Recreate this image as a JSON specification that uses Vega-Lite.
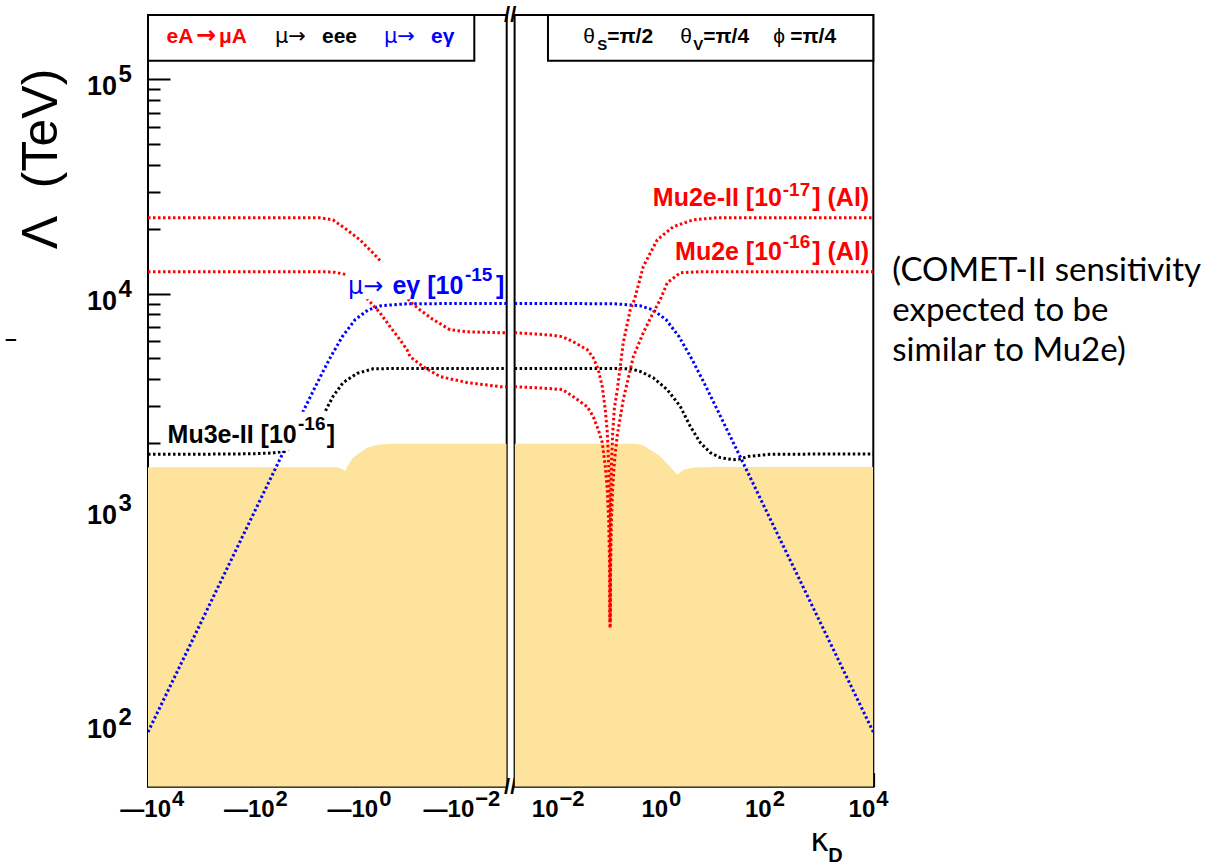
{
  "$schema": "https://vega.github.io/schema/vega-lite/v6.json",
  "autosize": {"type": "none"},
  "padding": {"left": 148, "top": 15, "right": 1065, "bottom": 852},
  "background": "white",
  "bounds": "flush",
  "spacing": 7.6,
  "config": {
    "view": {"stroke": "black", "strokeWidth": 2},
    "axis": {"grid": false, "domain": false, "tickColor": "black", "tickWidth": 2, "labels": false, "titleColor": "black"}
  },
  "datasets": {
    "curves": [
      {"side":"neg","series":"meg","k":0.00119,"v":9000},{"side":"neg","series":"meg","k":0.01,"v":9000},{"side":"neg","series":"meg","k":0.1,"v":8978},{"side":"neg","series":"meg","k":0.3162,"v":8788},{"side":"neg","series":"meg","k":0.5623,"v":8403},{"side":"neg","series":"meg","k":1,"v":7568},{"side":"neg","series":"meg","k":1.778,"v":6301},{"side":"neg","series":"meg","k":3.162,"v":4942},{"side":"neg","series":"meg","k":5.623,"v":3766},{"side":"neg","series":"meg","k":10,"v":2839},{"side":"neg","series":"meg","k":31.62,"v":1600},{"side":"neg","series":"meg","k":100,"v":900},{"side":"neg","series":"meg","k":1000,"v":284.6},{"side":"neg","series":"meg","k":10000,"v":90},
      {"side":"pos","series":"meg","k":0.00119,"v":9000},{"side":"pos","series":"meg","k":0.01,"v":9000},{"side":"pos","series":"meg","k":0.1,"v":8978},{"side":"pos","series":"meg","k":0.3162,"v":8788},{"side":"pos","series":"meg","k":0.5623,"v":8403},{"side":"pos","series":"meg","k":1,"v":7568},{"side":"pos","series":"meg","k":1.778,"v":6301},{"side":"pos","series":"meg","k":3.162,"v":4942},{"side":"pos","series":"meg","k":5.623,"v":3766},{"side":"pos","series":"meg","k":10,"v":2839},{"side":"pos","series":"meg","k":31.62,"v":1600},{"side":"pos","series":"meg","k":100,"v":900},{"side":"pos","series":"meg","k":1000,"v":284.6},{"side":"pos","series":"meg","k":10000,"v":90},
      {"side":"neg","series":"meee","k":0.00119,"v":4480},{"side":"neg","series":"meee","k":0.1,"v":4480},{"side":"neg","series":"meee","k":0.2,"v":4476},{"side":"neg","series":"meee","k":0.4529,"v":4460},{"side":"neg","series":"meee","k":0.9226,"v":4248},{"side":"neg","series":"meee","k":1.722,"v":3842},{"side":"neg","series":"meee","k":2.685,"v":3316},{"side":"neg","series":"meee","k":3.828,"v":2812},{"side":"neg","series":"meee","k":6.31,"v":2400},{"side":"neg","series":"meee","k":10,"v":2120},{"side":"neg","series":"meee","k":15.85,"v":1930},{"side":"neg","series":"meee","k":22.6,"v":1840},{"side":"neg","series":"meee","k":39.8,"v":1805},{"side":"neg","series":"meee","k":100,"v":1790},{"side":"neg","series":"meee","k":1000,"v":1782},{"side":"neg","series":"meee","k":10000,"v":1780},
      {"side":"pos","series":"meee","k":0.00119,"v":4480},{"side":"pos","series":"meee","k":0.1,"v":4478},{"side":"pos","series":"meee","k":0.2037,"v":4467},{"side":"pos","series":"meee","k":0.3177,"v":4337},{"side":"pos","series":"meee","k":0.5662,"v":4053},{"side":"pos","series":"meee","k":1.054,"v":3565},{"side":"pos","series":"meee","k":1.879,"v":2978},{"side":"pos","series":"meee","k":2.931,"v":2403},{"side":"pos","series":"meee","k":4.571,"v":2018},{"side":"pos","series":"meee","k":7.129,"v":1812},{"side":"pos","series":"meee","k":11.12,"v":1717},{"side":"pos","series":"meee","k":19.82,"v":1680},{"side":"pos","series":"meee","k":25.9,"v":1690},{"side":"pos","series":"meee","k":39.8,"v":1742},{"side":"pos","series":"meee","k":100,"v":1780},{"side":"pos","series":"meee","k":1000,"v":1785},{"side":"pos","series":"meee","k":10000,"v":1786},
      {"side":"neg","series":"mu2e2","k":0.00119,"v":6577},{"side":"neg","series":"mu2e2","k":0.001585,"v":6577},{"side":"neg","series":"mu2e2","k":0.00692,"v":6640},{"side":"neg","series":"mu2e2","k":0.01479,"v":6790},{"side":"neg","series":"mu2e2","k":0.0316,"v":7590},{"side":"neg","series":"mu2e2","k":0.0562,"v":8410},{"side":"neg","series":"mu2e2","k":0.0875,"v":9180},{"side":"neg","series":"mu2e2","k":0.158,"v":11300},{"side":"neg","series":"mu2e2","k":0.302,"v":13950},{"side":"neg","series":"mu2e2","k":0.457,"v":15530},{"side":"neg","series":"mu2e2","k":0.813,"v":17850},{"side":"neg","series":"mu2e2","k":1.445,"v":19880},{"side":"neg","series":"mu2e2","k":2.69,"v":22130},{"side":"neg","series":"mu2e2","k":4.79,"v":22600},{"side":"neg","series":"mu2e2","k":10,"v":22630},{"side":"neg","series":"mu2e2","k":10000,"v":22630},
      {"side":"neg","series":"mu2e","k":0.00119,"v":3683},{"side":"neg","series":"mu2e","k":0.001585,"v":3683},{"side":"neg","series":"mu2e","k":0.00692,"v":3848},{"side":"neg","series":"mu2e","k":0.0229,"v":4104},{"side":"neg","series":"mu2e","k":0.049,"v":4567},{"side":"neg","series":"mu2e","k":0.0871,"v":5085},{"side":"neg","series":"mu2e","k":0.1,"v":5480},{"side":"neg","series":"mu2e","k":0.1365,"v":6097},{"side":"neg","series":"mu2e","k":0.2128,"v":7016},{"side":"neg","series":"mu2e","k":0.332,"v":8150},{"side":"neg","series":"mu2e","k":0.566,"v":9380},{"side":"neg","series":"mu2e","k":0.9,"v":10900},{"side":"neg","series":"mu2e","k":1.445,"v":12270},{"side":"neg","series":"mu2e","k":2.5,"v":12600},{"side":"neg","series":"mu2e","k":4.79,"v":12680},{"side":"neg","series":"mu2e","k":10,"v":12680},{"side":"neg","series":"mu2e","k":10000,"v":12680},
      {"side":"pos","series":"mu2e2","k":0.00119,"v":6577},{"side":"pos","series":"mu2e2","k":0.00316,"v":6480},{"side":"pos","series":"mu2e2","k":0.00631,"v":6400},{"side":"pos","series":"mu2e2","k":0.01,"v":6300},{"side":"pos","series":"mu2e2","k":0.01614,"v":5970},{"side":"pos","series":"mu2e2","k":0.03006,"v":5480},{"side":"pos","series":"mu2e2","k":0.03926,"v":5030},{"side":"pos","series":"mu2e2","k":0.04909,"v":4420},{"side":"pos","series":"mu2e2","k":0.05861,"v":3680},{"side":"pos","series":"mu2e2","k":0.067,"v":2876},{"side":"pos","series":"mu2e2","k":0.0733,"v":2248},{"side":"pos","series":"mu2e2","k":0.078,"v":1572},{"side":"pos","series":"mu2e2","k":0.081,"v":994},{"side":"pos","series":"mu2e2","k":0.0825,"v":497},{"side":"pos","series":"mu2e2","k":0.0828,"v":300},{"side":"pos","series":"mu2e2","k":0.0832,"v":300},{"side":"pos","series":"mu2e2","k":0.0835,"v":497},{"side":"pos","series":"mu2e2","k":0.085,"v":994},{"side":"pos","series":"mu2e2","k":0.088,"v":1572},{"side":"pos","series":"mu2e2","k":0.093,"v":2223},{"side":"pos","series":"mu2e2","k":0.1,"v":2898},{"side":"pos","series":"mu2e2","k":0.1143,"v":3565},{"side":"pos","series":"mu2e2","k":0.149,"v":5906},{"side":"pos","series":"mu2e2","k":0.2037,"v":8435},{"side":"pos","series":"mu2e2","k":0.2455,"v":9395},{"side":"pos","series":"mu2e2","k":0.363,"v":13400},{"side":"pos","series":"mu2e2","k":0.676,"v":17880},{"side":"pos","series":"mu2e2","k":1.377,"v":20550},{"side":"pos","series":"mu2e2","k":3.35,"v":22140},{"side":"pos","series":"mu2e2","k":9.73,"v":22630},{"side":"pos","series":"mu2e2","k":10000,"v":22640},
      {"side":"pos","series":"mu2e","k":0.00119,"v":3683},{"side":"pos","series":"mu2e","k":0.00316,"v":3640},{"side":"pos","series":"mu2e","k":0.00631,"v":3600},{"side":"pos","series":"mu2e","k":0.01,"v":3570},{"side":"pos","series":"mu2e","k":0.01614,"v":3306},{"side":"pos","series":"mu2e","k":0.03006,"v":2969},{"side":"pos","series":"mu2e","k":0.03926,"v":2669},{"side":"pos","series":"mu2e","k":0.04909,"v":2321},{"side":"pos","series":"mu2e","k":0.05861,"v":2018},{"side":"pos","series":"mu2e","k":0.067,"v":1562},{"side":"pos","series":"mu2e","k":0.073,"v":1235},{"side":"pos","series":"mu2e","k":0.078,"v":873},{"side":"pos","series":"mu2e","k":0.081,"v":552},{"side":"pos","series":"mu2e","k":0.0826,"v":275},{"side":"pos","series":"mu2e","k":0.0834,"v":275},{"side":"pos","series":"mu2e","k":0.085,"v":552},{"side":"pos","series":"mu2e","k":0.088,"v":873},{"side":"pos","series":"mu2e","k":0.093,"v":1235},{"side":"pos","series":"mu2e","k":0.099,"v":1562},{"side":"pos","series":"mu2e","k":0.1045,"v":1811},{"side":"pos","series":"mu2e","k":0.115,"v":2209},{"side":"pos","series":"mu2e","k":0.149,"v":3200},{"side":"pos","series":"mu2e","k":0.2328,"v":5082},{"side":"pos","series":"mu2e","k":0.363,"v":6577},{"side":"pos","series":"mu2e","k":0.566,"v":8168},{"side":"pos","series":"mu2e","k":0.773,"v":9395},{"side":"pos","series":"mu2e","k":1.054,"v":11240},{"side":"pos","series":"mu2e","k":1.879,"v":12530},{"side":"pos","series":"mu2e","k":4.571,"v":12680},{"side":"pos","series":"mu2e","k":10000,"v":12680}
    ],
    "shade": [
      {"side":"neg","k":0.00119,"v":1995},{"side":"neg","k":0.2,"v":1995},{"side":"neg","k":0.291,"v":1985},{"side":"neg","k":0.42,"v":1955},{"side":"neg","k":0.593,"v":1912},{"side":"neg","k":1.104,"v":1717},{"side":"neg","k":1.35,"v":1590},{"side":"neg","k":1.574,"v":1482},{"side":"neg","k":1.75,"v":1520},{"side":"neg","k":2.29,"v":1550},{"side":"neg","k":10000,"v":1550},
      {"side":"pos","k":0.00119,"v":1995},{"side":"pos","k":0.2767,"v":1995},{"side":"pos","k":0.38,"v":1950},{"side":"pos","k":0.4932,"v":1872},{"side":"pos","k":0.7727,"v":1741},{"side":"pos","k":1.102,"v":1591},{"side":"pos","k":1.644,"v":1430},{"side":"pos","k":2.148,"v":1509},{"side":"pos","k":3.35,"v":1543},{"side":"pos","k":8.147,"v":1553},{"side":"pos","k":10000,"v":1553}
    ]
  },
  "hconcat": [
    {
      "width": 358.7,
      "height": 771.7,
      "resolve": {"axis": {"y": "independent"}},
      "layer": [
        {
          "data": {"name": "shade"},
          "transform": [{"filter": "datum.side == 'neg'"}],
          "mark": {"type": "area", "color": "#FDE39B", "clip": true},
          "encoding": {
            "x": {"field": "k", "type": "quantitative", "scale": {"type": "log", "domain": [0.00119, 10000], "reverse": true, "nice": false},
                  "axis": {"values": [10000, 1000, 100, 10, 1, 0.1, 0.01], "tickSize": -14, "labels": false, "title": null}},
            "y": {"field": "v", "type": "quantitative", "scale": {"type": "log", "domain": [50, 200000], "nice": false},
                  "axis": {"orient": "left", "values": [100, 1000, 10000, 100000], "tickSize": -22, "labels": false, "title": "Λ\u00a0\u00a0(TeV)", "titleFont": "Liberation Sans", "titleFontSize": 50, "titleFontWeight": "normal", "titleX": -106.5, "titleY": 143.5, "titleAngle": -90, "titleAlign": "center", "titleBaseline": "middle"}},
            "y2": {"datum": 50}
          }
        },
        {
          "data": {"name": "shade"},
          "transform": [{"filter": "datum.side == 'neg'"}],
          "mark": {"type": "point", "opacity": 0},
          "encoding": {
            "x": {"field": "k", "type": "quantitative"},
            "y": {"field": "v", "type": "quantitative", "axis": {"orient": "left", "values": [60, 70, 80, 90, 200, 300, 400, 500, 600, 700, 800, 900, 2000, 3000, 4000, 5000, 6000, 7000, 8000, 9000, 20000, 30000, 40000, 50000, 60000, 70000, 80000, 90000], "tickSize": -12, "labels": false, "title": null}}
          }
        },
        {
          "data": {"name": "curves"},
          "transform": [{"filter": "datum.side == 'neg'"}],
          "mark": {"type": "line", "strokeWidth": 3, "strokeDash": [2.5, 2.5], "clip": true},
          "encoding": {
            "x": {"field": "k", "type": "quantitative"},
            "y": {"field": "v", "type": "quantitative", "axis": null},
            "color": {"field": "series", "type": "nominal", "scale": {"domain": ["meg", "meee", "mu2e2", "mu2e"], "range": ["#0000FF", "#000000", "#FF0000", "#FF0000"]}, "legend": null}
          }
        },
        {
          "data": {"values": [{"k": 4696, "k2": 2.457, "v": 2815, "v2": 1852}, {"k": 1.507, "k2": 0.001404, "v": 14115, "v2": 9432}]},
          "mark": {"type": "rect", "fill": "white", "strokeWidth": 0},
          "encoding": {
            "x": {"field": "k", "type": "quantitative"}, "x2": {"field": "k2"},
            "y": {"field": "v", "type": "quantitative", "axis": null}, "y2": {"field": "v2"}
          }
        },
        {
          "data": {"values": [{"k": 10000, "k2": 0.005023, "v": 200000, "v2": 122400}]},
          "mark": {"type": "rect", "fill": "white", "stroke": "black", "strokeWidth": 2},
          "encoding": {
            "x": {"field": "k", "type": "quantitative"}, "x2": {"field": "k2"},
            "y": {"field": "v", "type": "quantitative", "axis": null}, "y2": {"field": "v2"}
          }
        },
        {
          "data": {"values": [{"t": "10", "k": 39670, "v": 84.2}, {"t": "10", "k": 39670, "v": 842}, {"t": "10", "k": 39670, "v": 8420}, {"t": "10", "k": 39670, "v": 84200}]},
          "mark": {"type": "text", "font": "Liberation Sans", "fontSize": 27, "fontWeight": "bold", "color": "#000000", "align": "right", "baseline": "alphabetic"},
          "encoding": {"x": {"field": "k", "type": "quantitative"}, "y": {"field": "v", "type": "quantitative", "axis": null}, "text": {"field": "t"}}
        },
        {
          "data": {"values": [{"t": "2", "k": 37110, "v": 96.83}, {"t": "3", "k": 37110, "v": 968.3}, {"t": "4", "k": 37110, "v": 9683}, {"t": "5", "k": 37110, "v": 96830}]},
          "mark": {"type": "text", "font": "Liberation Sans", "fontSize": 24, "fontWeight": "bold", "color": "#000000", "align": "left", "baseline": "alphabetic"},
          "encoding": {"x": {"field": "k", "type": "quantitative"}, "y": {"field": "v", "type": "quantitative", "axis": null}, "text": {"field": "t"}}
        },
        {
          "data": {"values": [{"t": "—10", "k": 3597, "v": 36.0}, {"t": "—10", "k": 35.99, "v": 36.0}, {"t": "—10", "k": 0.3601, "v": 36.0}, {"t": "—10", "k": 0.005028, "v": 36.0}]},
          "mark": {"type": "text", "font": "Liberation Sans", "fontSize": 24, "fontWeight": "bold", "color": "#000000", "align": "right", "baseline": "alphabetic"},
          "encoding": {"x": {"field": "k", "type": "quantitative"}, "y": {"field": "v", "type": "quantitative", "axis": null}, "text": {"field": "t"}}
        },
        {
          "data": {"values": [{"t": "4", "k": 3440, "v": 40.64}, {"t": "2", "k": 34.42, "v": 40.64}, {"t": "0", "k": 0.3444, "v": 40.64}, {"t": "−2", "k": 0.004809, "v": 40.64}]},
          "mark": {"type": "text", "font": "Liberation Sans", "fontSize": 22, "fontWeight": "bold", "color": "#000000", "align": "left", "baseline": "alphabetic"},
          "encoding": {"x": {"field": "k", "type": "quantitative"}, "y": {"field": "v", "type": "quantitative", "axis": null}, "text": {"field": "t"}}
        },
        {
          "data": {"values": [{"t": "eA", "k": 4395, "v": 148600}, {"t": "μA", "k": 426.1, "v": 148600}]},
          "mark": {"type": "text", "font": "Liberation Sans", "fontSize": 21, "fontWeight": "bold", "color": "#FF0000", "align": "left", "baseline": "alphabetic"},
          "encoding": {"x": {"field": "k", "type": "quantitative"}, "y": {"field": "v", "type": "quantitative", "axis": null}, "text": {"field": "t"}}
        },
        {
          "data": {"values": [{"t": "→", "k": 1184, "v": 148600}]},
          "mark": {"type": "text", "font": "DejaVu Sans", "fontSize": 24, "fontWeight": "bold", "color": "#FF0000", "align": "left", "baseline": "alphabetic"},
          "encoding": {"x": {"field": "k", "type": "quantitative"}, "y": {"field": "v", "type": "quantitative", "axis": null}, "text": {"field": "t"}}
        },
        {
          "data": {"values": [{"t": "μ→", "k": 35.37, "v": 148600}]},
          "mark": {"type": "text", "font": "DejaVu Sans", "fontSize": 21, "fontWeight": "normal", "color": "#000000", "align": "left", "baseline": "alphabetic"},
          "encoding": {"x": {"field": "k", "type": "quantitative"}, "y": {"field": "v", "type": "quantitative", "axis": null}, "text": {"field": "t"}}
        },
        {
          "data": {"values": [{"t": "eee", "k": 4.377, "v": 148600}]},
          "mark": {"type": "text", "font": "Liberation Sans", "fontSize": 21, "fontWeight": "bold", "color": "#000000", "align": "left", "baseline": "alphabetic"},
          "encoding": {"x": {"field": "k", "type": "quantitative"}, "y": {"field": "v", "type": "quantitative", "axis": null}, "text": {"field": "t"}}
        },
        {
          "data": {"values": [{"t": "μ→", "k": 0.2782, "v": 148600}]},
          "mark": {"type": "text", "font": "DejaVu Sans", "fontSize": 21, "fontWeight": "normal", "color": "#0000FF", "align": "left", "baseline": "alphabetic"},
          "encoding": {"x": {"field": "k", "type": "quantitative"}, "y": {"field": "v", "type": "quantitative", "axis": null}, "text": {"field": "t"}}
        },
        {
          "data": {"values": [{"t": "eγ", "k": 0.03445, "v": 148600}]},
          "mark": {"type": "text", "font": "Liberation Sans", "fontSize": 21, "fontWeight": "bold", "color": "#0000FF", "align": "left", "baseline": "alphabetic"},
          "encoding": {"x": {"field": "k", "type": "quantitative"}, "y": {"field": "v", "type": "quantitative", "axis": null}, "text": {"field": "t"}}
        },
        {
          "data": {"values": [{"t": "Mu3e-II [10", "k": 13.48, "v": 2011}]},
          "mark": {"type": "text", "font": "Liberation Sans", "fontSize": 25, "fontWeight": "bold", "color": "#000000", "align": "right", "baseline": "alphabetic"},
          "encoding": {"x": {"field": "k", "type": "quantitative"}, "y": {"field": "v", "type": "quantitative", "axis": null}, "text": {"field": "t"}}
        },
        {
          "data": {"values": [{"t": "]", "k": 3.552, "v": 2011}]},
          "mark": {"type": "text", "font": "Liberation Sans", "fontSize": 25, "fontWeight": "bold", "color": "#000000", "align": "left", "baseline": "alphabetic"},
          "encoding": {"x": {"field": "k", "type": "quantitative"}, "y": {"field": "v", "type": "quantitative", "axis": null}, "text": {"field": "t"}}
        },
        {
          "data": {"values": [{"t": "-16", "k": 12.72, "v": 2302}]},
          "mark": {"type": "text", "font": "Liberation Sans", "fontSize": 19, "fontWeight": "bold", "color": "#000000", "align": "left", "baseline": "alphabetic"},
          "encoding": {"x": {"field": "k", "type": "quantitative"}, "y": {"field": "v", "type": "quantitative", "axis": null}, "text": {"field": "t"}}
        },
        {
          "data": {"values": [{"t": "μ→", "k": 1.379, "v": 10006}]},
          "mark": {"type": "text", "font": "DejaVu Sans", "fontSize": 24, "fontWeight": "normal", "color": "#0000FF", "align": "left", "baseline": "alphabetic"},
          "encoding": {"x": {"field": "k", "type": "quantitative"}, "y": {"field": "v", "type": "quantitative", "axis": null}, "text": {"field": "t"}}
        },
        {
          "data": {"values": [{"t": "eγ [10", "k": 0.008197, "v": 10006}]},
          "mark": {"type": "text", "font": "Liberation Sans", "fontSize": 25, "fontWeight": "bold", "color": "#0000FF", "align": "right", "baseline": "alphabetic"},
          "encoding": {"x": {"field": "k", "type": "quantitative"}, "y": {"field": "v", "type": "quantitative", "axis": null}, "text": {"field": "t"}}
        },
        {
          "data": {"values": [{"t": "]", "k": 0.001917, "v": 10006}]},
          "mark": {"type": "text", "font": "Liberation Sans", "fontSize": 25, "fontWeight": "bold", "color": "#0000FF", "align": "left", "baseline": "alphabetic"},
          "encoding": {"x": {"field": "k", "type": "quantitative"}, "y": {"field": "v", "type": "quantitative", "axis": null}, "text": {"field": "t"}}
        },
        {
          "data": {"values": [{"t": "-15", "k": 0.007601, "v": 11420}]},
          "mark": {"type": "text", "font": "Liberation Sans", "fontSize": 19, "fontWeight": "bold", "color": "#0000FF", "align": "left", "baseline": "alphabetic"},
          "encoding": {"x": {"field": "k", "type": "quantitative"}, "y": {"field": "v", "type": "quantitative", "axis": null}, "text": {"field": "t"}}
        },
        {
          "data": {"values": [{"t": "//", "k": 0.00119, "v": 200000}, {"t": "//", "k": 0.00119, "v": 50}]},
          "mark": {"type": "text", "font": "Liberation Sans", "fontSize": 22, "fontWeight": "bold", "color": "#000000", "align": "center", "baseline": "middle", "dx": 3.5},
          "encoding": {"x": {"field": "k", "type": "quantitative"}, "y": {"field": "v", "type": "quantitative", "axis": null}, "text": {"field": "t"}}
        },
        {
          "data": {"values": [{"t": "–", "k": 4451000, "v": 6117}]},
          "mark": {"type": "text", "font": "Liberation Sans", "fontSize": 21, "fontWeight": "bold", "color": "#000000", "align": "center", "baseline": "middle"},
          "encoding": {"x": {"field": "k", "type": "quantitative"}, "y": {"field": "v", "type": "quantitative", "axis": null}, "text": {"field": "t"}}
        }
      ]
    },
    {
      "width": 358.7,
      "height": 771.7,
      "layer": [
        {
          "data": {"name": "shade"},
          "transform": [{"filter": "datum.side == 'pos'"}],
          "mark": {"type": "area", "color": "#FDE39B", "clip": true},
          "encoding": {
            "x": {"field": "k", "type": "quantitative", "scale": {"type": "log", "domain": [0.00119, 10000], "nice": false},
                  "axis": {"values": [0.01, 0.1, 1, 10, 100, 1000, 10000], "tickSize": -14, "labels": false, "title": null}},
            "y": {"field": "v", "type": "quantitative", "scale": {"type": "log", "domain": [50, 200000], "nice": false}, "axis": null},
            "y2": {"datum": 50}
          }
        },
        {
          "data": {"name": "curves"},
          "transform": [{"filter": "datum.side == 'pos'"}],
          "mark": {"type": "line", "strokeWidth": 3, "strokeDash": [2.5, 2.5], "clip": true},
          "encoding": {
            "x": {"field": "k", "type": "quantitative"},
            "y": {"field": "v", "type": "quantitative", "axis": null},
            "color": {"field": "series", "type": "nominal", "scale": {"domain": ["meg", "meee", "mu2e2", "mu2e"], "range": ["#0000FF", "#000000", "#FF0000", "#FF0000"]}, "legend": null}
          }
        },
        {
          "data": {"values": [{"k": 0.005248, "k2": 10000, "v": 200000, "v2": 122400}]},
          "mark": {"type": "rect", "fill": "white", "stroke": "black", "strokeWidth": 2},
          "encoding": {
            "x": {"field": "k", "type": "quantitative"}, "x2": {"field": "k2"},
            "y": {"field": "v", "type": "quantitative", "axis": null}, "y2": {"field": "v2"}
          }
        },
        {
          "data": {"values": [{"t": "10", "k": 0.008372, "v": 36.0}, {"t": "10", "k": 1.093, "v": 36.0}, {"t": "10", "k": 109.3, "v": 36.0}, {"t": "10", "k": 10930, "v": 36.0}]},
          "mark": {"type": "text", "font": "Liberation Sans", "fontSize": 24, "fontWeight": "bold", "color": "#000000", "align": "right", "baseline": "alphabetic"},
          "encoding": {"x": {"field": "k", "type": "quantitative"}, "y": {"field": "v", "type": "quantitative", "axis": null}, "text": {"field": "t"}}
        },
        {
          "data": {"values": [{"t": "−2", "k": 0.008753, "v": 40.64}, {"t": "0", "k": 1.1427, "v": 40.64}, {"t": "2", "k": 114.27, "v": 40.64}, {"t": "4", "k": 11427, "v": 40.64}]},
          "mark": {"type": "text", "font": "Liberation Sans", "fontSize": 22, "fontWeight": "bold", "color": "#000000", "align": "left", "baseline": "alphabetic"},
          "encoding": {"x": {"field": "k", "type": "quantitative"}, "y": {"field": "v", "type": "quantitative", "axis": null}, "text": {"field": "t"}}
        },
        {
          "data": {"values": [{"t": "θ", "k": 0.02522, "v": 148600}, {"t": "θ", "k": 1.88, "v": 148600}, {"t": "ϕ", "k": 117.3, "v": 148600}]},
          "mark": {"type": "text", "font": "Liberation Sans", "fontSize": 21, "fontWeight": "normal", "color": "#000000", "align": "left", "baseline": "alphabetic"},
          "encoding": {"x": {"field": "k", "type": "quantitative"}, "y": {"field": "v", "type": "quantitative", "axis": null}, "text": {"field": "t"}}
        },
        {
          "data": {"values": [{"t": "S", "k": 0.04697, "v": 137800}, {"t": "V", "k": 3.35, "v": 137800}]},
          "mark": {"type": "text", "font": "Liberation Sans", "fontSize": 15, "fontWeight": "bold", "color": "#000000", "align": "left", "baseline": "alphabetic"},
          "encoding": {"x": {"field": "k", "type": "quantitative"}, "y": {"field": "v", "type": "quantitative", "axis": null}, "text": {"field": "t"}}
        },
        {
          "data": {"values": [{"t": "=π/2", "k": 0.07326, "v": 148600}, {"t": "=π/4", "k": 5.224, "v": 148600}, {"t": "=π/4", "k": 249.7, "v": 148600}]},
          "mark": {"type": "text", "font": "Liberation Sans", "fontSize": 21, "fontWeight": "bold", "color": "#000000", "align": "left", "baseline": "alphabetic"},
          "encoding": {"x": {"field": "k", "type": "quantitative"}, "y": {"field": "v", "type": "quantitative", "axis": null}, "text": {"field": "t"}}
        },
        {
          "data": {"values": [{"t": "Mu2e-II [10", "k": 172.7, "v": 25570}, {"t": "Mu2e [10", "k": 172.7, "v": 14420}]},
          "mark": {"type": "text", "font": "Liberation Sans", "fontSize": 25, "fontWeight": "bold", "color": "#FF0000", "align": "right", "baseline": "alphabetic"},
          "encoding": {"x": {"field": "k", "type": "quantitative"}, "y": {"field": "v", "type": "quantitative", "axis": null}, "text": {"field": "t"}}
        },
        {
          "data": {"values": [{"t": "-17", "k": 178.9, "v": 28470}, {"t": "-16", "k": 178.9, "v": 16410}]},
          "mark": {"type": "text", "font": "Liberation Sans", "fontSize": 19, "fontWeight": "bold", "color": "#FF0000", "align": "left", "baseline": "alphabetic"},
          "encoding": {"x": {"field": "k", "type": "quantitative"}, "y": {"field": "v", "type": "quantitative", "axis": null}, "text": {"field": "t"}}
        },
        {
          "data": {"values": [{"t": "] (Al)", "k": 663.9, "v": 25570}, {"t": "] (Al)", "k": 663.9, "v": 14420}]},
          "mark": {"type": "text", "font": "Liberation Sans", "fontSize": 25, "fontWeight": "bold", "color": "#FF0000", "align": "left", "baseline": "alphabetic"},
          "encoding": {"x": {"field": "k", "type": "quantitative"}, "y": {"field": "v", "type": "quantitative", "axis": null}, "text": {"field": "t"}}
        },
        {
          "data": {"values": [{"t": "(COMET-II sensitivity", "k": 23280, "v": 11415}, {"t": "expected to be", "k": 23280, "v": 7424}, {"t": "similar to Mu2e)", "k": 23280, "v": 4831}]},
          "mark": {"type": "text", "font": "Lato", "fontSize": 33, "fontWeight": "normal", "color": "#000000", "align": "left", "baseline": "alphabetic"},
          "encoding": {"x": {"field": "k", "type": "quantitative"}, "y": {"field": "v", "type": "quantitative", "axis": null}, "text": {"field": "t"}}
        },
        {
          "data": {"values": [{"t": "κ", "k": 607, "v": 25.06}]},
          "mark": {"type": "text", "font": "DejaVu Sans", "fontSize": 32, "fontWeight": "normal", "color": "#000000", "align": "left", "baseline": "alphabetic"},
          "encoding": {"x": {"field": "k", "type": "quantitative"}, "y": {"field": "v", "type": "quantitative", "axis": null}, "text": {"field": "t"}}
        },
        {
          "data": {"values": [{"t": "D", "k": 1349, "v": 22.26}]},
          "mark": {"type": "text", "font": "Liberation Sans", "fontSize": 20, "fontWeight": "bold", "color": "#000000", "align": "left", "baseline": "alphabetic"},
          "encoding": {"x": {"field": "k", "type": "quantitative"}, "y": {"field": "v", "type": "quantitative", "axis": null}, "text": {"field": "t"}}
        }
      ]
    }
  ]
}
